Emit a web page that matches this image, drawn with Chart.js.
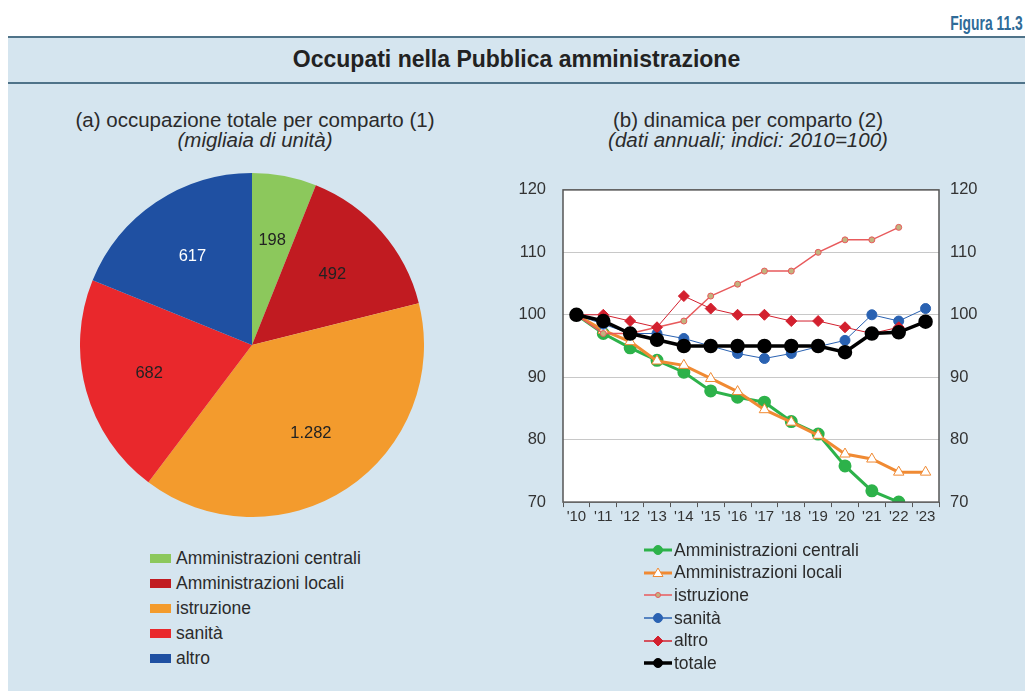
<!DOCTYPE html>
<html><head><meta charset="utf-8">
<script src="https://cdn.jsdelivr.net/npm/chart.js@4/dist/chart.umd.min.js"></script>
<style>
html,body{margin:0;padding:0;background:#fff;width:1025px;height:691px;overflow:hidden;font-family:"Liberation Sans",Arial,sans-serif;color:#2b2b2b}
#panel{position:absolute;left:8px;top:36px;width:1017px;height:655px;background:#d5e5ef;border-top:2px solid #4f7389}
#band{position:absolute;left:8px;top:82px;width:1017px;height:0;border-top:2px solid #4f7389}
#fig{position:absolute;right:2px;top:11px;font-weight:bold;font-size:21px;color:#2f6b98;transform:scaleX(0.66);transform-origin:right center}
#title{position:absolute;left:8px;width:1017px;top:46px;text-align:center;font-weight:bold;font-size:23px;color:#222}
.sub{position:absolute;text-align:center;font-size:20.5px;line-height:20px;color:#2b2b2b}
.leg{position:absolute;font-size:17.5px;color:#2b2b2b}
.leg div{height:25px;display:flex;align-items:center}
.sw{display:inline-block;width:21px;height:9px;margin-right:5px}
.leg2 div{height:22.6px;display:flex;align-items:center}
.leg2 canvas{margin-right:1px}
</style></head><body>
<div id="fig">Figura 11.3</div>
<div id="panel"></div>
<div id="band"></div>
<div id="title">Occupati nella Pubblica amministrazione</div>
<div class="sub" style="left:5px;width:500px;top:110px">(a) occupazione totale per comparto (1)<br><i>(migliaia di unità)</i></div>
<div class="sub" style="left:498px;width:500px;top:110px">(b) dinamica per comparto (2)<br><i>(dati annuali; indici: 2010=100)</i></div>
<div style="position:absolute;left:80px;top:173px;width:344px;height:344px"><canvas id="pie"></canvas></div>
<div style="position:absolute;left:500px;top:163px;width:490px;height:366px"><canvas id="line"></canvas></div>
<div class="leg" id="pieLeg" style="left:150px;top:546px"></div>
<div class="leg leg2" id="lineLeg" style="left:643px;top:539px"></div>
<script>
// ---- data ----
const pieLabels = ["Amministrazioni centrali","Amministrazioni locali","istruzione","sanità","altro"];
const pieValues = [198, 492, 1282, 682, 617];
const pieText = ["198","492","1.282","682","617"];
const pieColors = ["#8cc85c","#c11b21","#f39b2d","#e9282c","#1f50a2"];
const pieTextColors = ["#222","#222","#222","#222","#fff"];

const years = ["'10","'11","'12","'13","'14","'15","'16","'17","'18","'19","'20","'21","'22","'23"];
const centrali   = [100, 97, 94.7, 92.7, 90.8, 87.8, 86.8, 86, 82.9, 80.9, 75.8, 71.8, 70, null];
const locali     = [100, 97.5, 95.7, 92.6, 91.9, 89.8, 87.7, 84.8, 82.8, 80.7, 77.7, 76.9, 74.8, 74.8];
const istruzione = [100, 97, 97, 98, 99, 103, 104.9, 107, 107, 110, 112, 112, 114, null];
const sanita     = [100, 98.5, 97, 97, 96.2, 95, 93.8, 93, 93.8, 94.9, 95.9, 100, 99, 101];
const altro      = [100, 100, 99, 98, 103, 101, 100, 100, 99, 99, 98, 97, 98, null];
const totale     = [100, 99, 97, 96, 95, 95, 95, 95, 95, 95, 94, 97, 97.2, 98.9];
const yTicks = [70, 80, 90, 100, 110, 120];

// ---- pie ----
const pieLabelPlugin = {
  id:'pieLabels',
  afterDatasetsDraw(chart){
    const ctx = chart.ctx, meta = chart.getDatasetMeta(0);
    ctx.save();
    ctx.font = '16.5px "Liberation Sans", Arial';
    ctx.textAlign='center'; ctx.textBaseline='middle';
    meta.data.forEach((arc,i)=>{
      const mid=(arc.startAngle+arc.endAngle)/2, r=arc.outerRadius*0.62;
      ctx.fillStyle=pieTextColors[i];
      ctx.fillText(pieText[i], arc.x+Math.cos(mid)*r, arc.y+Math.sin(mid)*r);
    });
    ctx.restore();
  }
};
new Chart(document.getElementById('pie'),{
  type:'pie',
  data:{labels:pieLabels,datasets:[{data:pieValues,backgroundColor:pieColors,borderWidth:0}]},
  options:{responsive:true,maintainAspectRatio:false,animation:false,
    plugins:{legend:{display:false},tooltip:{enabled:false}},layout:{padding:0}},
  plugins:[pieLabelPlugin]
});
const pl=document.getElementById('pieLeg');
pieLabels.forEach((l,i)=>{const d=document.createElement('div');d.innerHTML='<span class="sw" style="background:'+pieColors[i]+'"></span>'+l;pl.appendChild(d);});

// ---- line ----
const series = [
  {label:"Amministrazioni centrali",data:centrali,borderColor:"#2db24a",backgroundColor:"#2db24a",borderWidth:3,pointStyle:'circle',pointRadius:5,pointBorderColor:"#2db24a",order:5},
  {label:"Amministrazioni locali",data:locali,borderColor:"#f08a33",backgroundColor:"#ffffff",borderWidth:3,pointStyle:'triangle',pointRadius:6,pointBorderColor:"#f08a33",pointBorderWidth:1,order:4},
  {label:"istruzione",data:istruzione,borderColor:"#e85a5c",backgroundColor:"#c2b37e",borderWidth:1.5,pointStyle:'circle',pointRadius:3,pointBorderColor:"#e85a5c",pointBorderWidth:1,order:3},
  {label:"sanità",data:sanita,borderColor:"#2a62b2",backgroundColor:"#2a62b2",borderWidth:1,pointStyle:'circle',pointRadius:5,pointBorderColor:"#2a62b2",order:2},
  {label:"altro",data:altro,borderColor:"#d3202e",backgroundColor:"#d3202e",borderWidth:1,pointStyle:'rectRot',pointRadius:5.5,pointBorderColor:"#d3202e",order:1},
  {label:"totale",data:totale,borderColor:"#000",backgroundColor:"#000",borderWidth:3.5,pointStyle:'circle',pointRadius:5.5,pointBorderColor:"#000",order:0}
];
const frame = {
  id:'frame',
  beforeDraw(c){const a=c.chartArea,x=c.ctx;x.save();x.fillStyle='#fff';x.fillRect(a.left,a.top,a.right-a.left,a.bottom-a.top);x.restore();},
  afterDraw(c){const a=c.chartArea,x=c.ctx;x.save();x.strokeStyle='#555';x.lineWidth=1.5;x.strokeRect(a.left,a.top,a.right-a.left,a.bottom-a.top);x.restore();}
};
const tickFont={family:'"Liberation Sans", Arial',size:16.5};
new Chart(document.getElementById('line'),{
  type:'line',
  data:{labels:years,datasets:series.map(s=>Object.assign({tension:0,spanGaps:false,pointHoverRadius:s.pointRadius},s))},
  options:{responsive:true,maintainAspectRatio:false,animation:false,
    layout:{padding:{top:2,left:0,right:0,bottom:0}},
    plugins:{legend:{display:false},tooltip:{enabled:false}},
    scales:{
      x:{offset:true,grid:{offset:true,drawOnChartArea:false,drawTicks:true,tickLength:5,color:'#555'},border:{display:false},
         ticks:{color:'#333',font:{family:'"Liberation Sans", Arial',size:15},padding:1,maxRotation:0,autoSkip:false},
         afterFit(s){s.height=23;}},
      y:{position:'left',min:70,max:120,afterBuildTicks(s){s.ticks=yTicks.map(v=>({value:v}));},
         grid:{color:'#c8c8c8',drawTicks:false},border:{display:false},
         ticks:{color:'#333',font:tickFont,padding:17},afterFit(s){s.width=63;}},
      y2:{position:'right',min:70,max:120,afterBuildTicks(s){s.ticks=yTicks.map(v=>({value:v}));},
         grid:{display:false,drawTicks:false},border:{display:false},
         ticks:{color:'#333',font:tickFont,padding:11},afterFit(s){s.width=51;}}
    }},
  plugins:[frame]
});
// line legend
const ll=document.getElementById('lineLeg');
series.forEach(s=>{
  const d=document.createElement('div');
  const cv=document.createElement('canvas');cv.width=30;cv.height=14;
  const g=cv.getContext('2d');
  g.strokeStyle=s.borderColor;g.lineWidth=Math.max(s.borderWidth,1.5);
  g.beginPath();g.moveTo(1,7);g.lineTo(29,7);g.stroke();
  const r=Math.min(s.pointRadius,5);
  g.fillStyle=s.backgroundColor;g.strokeStyle=s.pointBorderColor;g.lineWidth=1;
  g.beginPath();
  if(s.pointStyle==='triangle'){g.moveTo(15,7-r);g.lineTo(15+r,7+r*0.7);g.lineTo(15-r,7+r*0.7);g.closePath();}
  else if(s.pointStyle==='rectRot'){g.moveTo(15,7-r);g.lineTo(15+r,7);g.lineTo(15,7+r);g.lineTo(15-r,7);g.closePath();}
  else {g.arc(15,7,r-0.5,0,Math.PI*2);}
  g.fill();g.stroke();
  d.appendChild(cv);d.appendChild(document.createTextNode(s.label));ll.appendChild(d);
});
</script>
</body></html>
